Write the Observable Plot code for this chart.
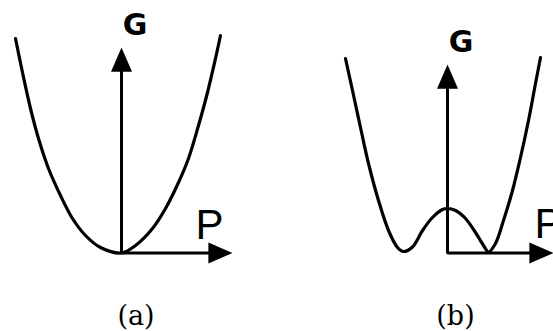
<!DOCTYPE html>
<html>
<head>
<meta charset="utf-8">
<script src="https://cdn.jsdelivr.net/npm/d3@7"></script>
<script src="https://cdn.jsdelivr.net/npm/@observablehq/plot@0.6"></script>
<style>
  html, body { margin: 0; padding: 0; background: #fff; overflow: hidden; }
</style>
</head>
<body>
<div id="chart"></div>
<script>
// Panels
const panels = ["(a)", "(b)"];

// Panel (a): single-well curve G(P)
const curveA_P = [-10.6, -9.9, -9.1, -8.3, -7.3, -6.1, -4.9, -3.6, -2.1, 0, 1.4, 3.1, 4.4, 5.7, 6.7, 7.7, 8.6, 9.4, 9.9];
const curveA_G = [21.45, 18.05, 14.45, 11.45, 8.45, 5.75, 3.45, 1.75, 0.55, 0, 0.75, 2.45, 4.45, 7.05, 9.45, 12.75, 16.05, 19.45, 21.75];

// Panel (b): double-well curve G(P)
const curveB_P = [-10.2, -9.5, -8.7, -7.9, -6.9, -5.9, -5.0, -4.4, -3.5, -2.5, -1.5, -0.5, 0, 0.8, 1.8, 2.8, 3.6, 4.1, 4.8, 5.6, 6.5, 7.3, 8.1, 8.8, 9.3];
const curveB_G = [19.45, 16.25, 12.55, 8.95, 5.25, 2.25, 0.55, 0.15, 0.6, 2.25, 3.55, 4.35, 4.45, 4.25, 3.45, 2.05, 0.75, 0.1, 0.95, 3.25, 6.25, 9.55, 13.25, 16.95, 19.55];

// Axis arrow tips (data units) for each panel
const axisTipP = [11.1, 10.6];
const axisTipG = [20.55, 18.85];
const axisNameP = "P";
const axisNameG = "G";

// Build tables
const curves = [
  ...curveA_P.map((p, i) => ({panel: panels[0], p, g: curveA_G[i]})),
  ...curveB_P.map((p, i) => ({panel: panels[1], p, g: curveB_G[i]}))
];
const shafts = panels.flatMap((panel, i) => [
  {panel, p: 0, g: axisTipG[i], end: "G"},
  {panel, p: 0, g: 0, end: "O"},
  {panel, p: axisTipP[i], g: 0, end: "P"}
]);
const heads = panels.flatMap((panel, i) => [
  {panel, p: 0, g: axisTipG[i], dir: "G"},
  {panel, p: axisTipP[i], g: 0, dir: "P"}
]);

// Filled arrowhead symbol, tip at the anchor point, pointing up
const arrowHead = {
  draw(context, size) {
    const r = Math.sqrt(size / Math.PI);
    context.moveTo(0, 0);
    context.lineTo(r, 2.3 * r);
    context.lineTo(-r, 2.3 * r);
    context.closePath();
  }
};

const back = 1.2; // shaft stops under the head
const chart = Plot.plot({
  width: 553,
  height: 331,
  marginTop: 2.5,
  marginBottom: 78.5,
  marginLeft: 0,
  marginRight: 0,
  style: {background: "#fff"},
  fx: {domain: panels, paddingInner: 0.303681, paddingOuter: 0, round: false, axis: null},
  x: {domain: [-12.1, 10.6], axis: null},
  y: {domain: [0, 25], axis: null},
  marks: [
    // axes shafts as an L polyline
    Plot.line(shafts, {
      fx: "panel", z: "panel",
      x: d => d.end === "P" ? d.p - back : d.p,
      y: d => d.end === "G" ? d.g - back : d.g,
      stroke: "black", strokeWidth: 3, strokeLinejoin: "miter", strokeLinecap: "butt"
    }),
    // arrow heads
    Plot.dot(heads, {
      fx: "panel", x: "p", y: "g",
      rotate: d => d.dir === "G" ? 0 : 90,
      symbol: arrowHead, r: 10.5, fill: "black", stroke: "none"
    }),
    // curves
    Plot.line(curves, {
      fx: "panel", z: "panel", x: "p", y: "g",
      curve: "catmull-rom", stroke: "black", strokeWidth: 3.2
    }),
    // G labels
    Plot.text(heads.filter(d => d.dir === "G"), {
      fx: "panel", x: "p", y: "g", text: () => axisNameG,
      dx: 13.5, dy: -12.5, textAnchor: "middle", lineAnchor: "bottom",
      fontFamily: "DejaVu Sans", fontWeight: "bold", fontSize: 30, fill: "black",
      ariaLabel: "Gname"
    }),
    // P labels
    Plot.text(heads.filter(d => d.dir === "P" && d.panel === panels[0]), {
      fx: "panel", x: "p", y: "g", text: () => axisNameP,
      dx: -37, dy: -14.5, textAnchor: "start", lineAnchor: "bottom",
      fontFamily: "Liberation Sans", fontSize: 42, fill: "black"
    }),
    Plot.text(heads.filter(d => d.dir === "P" && d.panel === panels[1]), {
      fx: "panel", x: "p", y: "g", text: () => axisNameP,
      dx: -19, dy: -15.5, textAnchor: "start", lineAnchor: "bottom",
      fontFamily: "Liberation Sans", fontSize: 42, fill: "black"
    }),
    // panel captions
    Plot.text([panels[0]], {
      fx: d => d, x: () => 0, y: () => 0, text: d => d,
      dx: 14.5, dy: 63.4, textAnchor: "middle", lineAnchor: "middle",
      fontFamily: "DejaVu Serif", fontSize: 27, fill: "black"
    }),
    Plot.text([panels[1]], {
      fx: d => d, x: () => 0, y: () => 0, text: d => d,
      dx: 8, dy: 63.4, textAnchor: "middle", lineAnchor: "middle",
      fontFamily: "DejaVu Serif", fontSize: 27, fill: "black"
    })
  ]
});

// widen the bold G glyphs like the original
chart.querySelectorAll('g[aria-label="Gname"] text').forEach(t => {
  const tr = t.getAttribute("transform") || "";
  t.setAttribute("transform", tr + " scale(1.3,1)");
});

document.getElementById("chart").appendChild(chart);
</script>
</body>
</html>
